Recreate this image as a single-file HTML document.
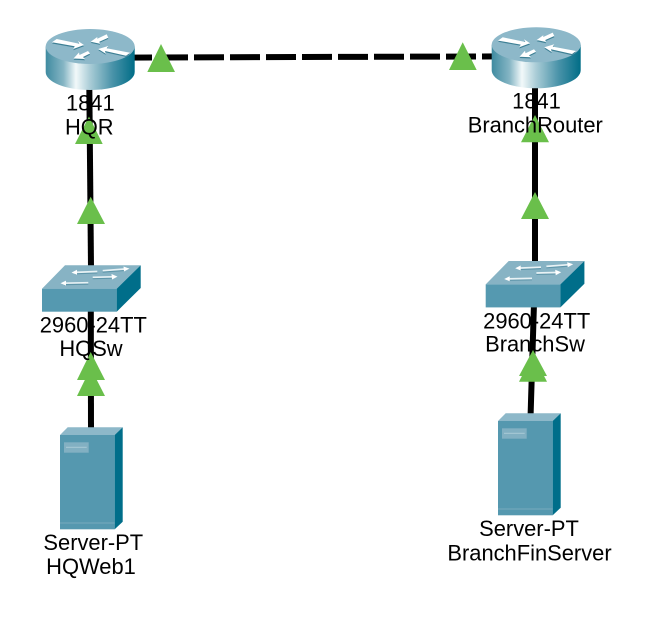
<!DOCTYPE html>
<html>
<head>
<meta charset="utf-8">
<style>
html,body{margin:0;padding:0;background:#fff;width:667px;height:640px;overflow:hidden}
svg{display:block}
text{font-family:"Liberation Sans",Arial,sans-serif;font-size:21.9px;fill:#000;text-anchor:middle}
</style>
</head>
<body>
<svg width="667" height="640" viewBox="0 0 667 640" xmlns="http://www.w3.org/2000/svg">
<defs>
<linearGradient id="rg" x1="0" x2="1" y1="0" y2="0">
<stop offset="0" stop-color="#3f8ba0"/>
<stop offset="0.2" stop-color="#85b5c4"/>
<stop offset="0.34" stop-color="#f2f9fa"/>
<stop offset="0.5" stop-color="#a9ccd6"/>
<stop offset="0.75" stop-color="#4a93a9"/>
<stop offset="1" stop-color="#006d87"/>
</linearGradient>
<g id="router">
<path d="M45.7,46.5 V72 A44.5,18 0 0 0 134.7,72 V46.5 Z" fill="url(#rg)"/>
<ellipse cx="90.2" cy="46.5" rx="44.5" ry="17.5" fill="#8db8c9"/>
<g fill="#3d7f94" transform="translate(0,1.2)">
<polygon points="52,42.3 56.7,39 79.3,43.7 78,41 84,45 73.3,49 74.7,46.3"/>
<polygon points="98.3,49 108.3,46 106.7,48.3 130,52.7 126,55.7 105,51 105.7,53.7"/>
<polygon points="90.7,41.7 97.3,37 97.3,38.7 106.7,34.3 108.3,37.7 99.3,41.7 100,43.7"/>
<polygon points="73.5,58.5 79,52.5 79.5,55 88,51 90,53.5 83,57 85,59"/>
</g>
<g fill="#fff">
<polygon points="52,42.3 56.7,39 79.3,43.7 78,41 84,45 73.3,49 74.7,46.3"/>
<polygon points="98.3,49 108.3,46 106.7,48.3 130,52.7 126,55.7 105,51 105.7,53.7"/>
<polygon points="90.7,41.7 97.3,37 97.3,38.7 106.7,34.3 108.3,37.7 99.3,41.7 100,43.7"/>
<polygon points="73.5,58.5 79,52.5 79.5,55 88,51 90,53.5 83,57 85,59"/>
</g>
</g>
<g id="switch">
<polygon points="42,288.7 65,265.3 140.7,265.3 116.7,288.7" fill="#87b3c4"/>
<rect x="42" y="288.7" width="74.7" height="23" fill="#5599b0"/>
<polygon points="116.7,288.7 140.7,265.3 140.7,288 116.7,311.7" fill="#006e8a"/>
<g stroke="#5f96aa" stroke-width="1.4" fill="none" transform="translate(0,1.3)">
<path d="M75,272.4 L97.3,271.5"/><path d="M102.7,270.7 L125,269"/>
<path d="M64,283.2 L88.3,282.7"/><path d="M92.7,277.3 L113,276.8"/>
</g>
<g stroke="#e8f2f5" stroke-width="1.7" fill="none">
<path d="M75,272.4 L97.3,271.5"/><path d="M102.7,270.7 L125,269"/>
<path d="M64,283.2 L88.3,282.7"/><path d="M92.7,277.3 L113,276.8"/>
</g>
<g fill="#fff">
<polygon points="71.5,272.6 77,269.8 77,274.8"/>
<polygon points="129.5,268.6 123.5,266.5 124,271.5"/>
<polygon points="60.5,283.3 66,280.6 66,285.6"/>
<polygon points="117.5,276.6 111.5,274 112,279.5"/>
</g>
</g>
<g id="server">
<polygon points="60,435 67.7,427.3 122.7,427.3 114.7,435" fill="#8db8c9"/>
<rect x="60" y="435" width="54.7" height="94.3" fill="#5598af"/>
<polygon points="114.7,435 122.7,427.3 122.7,521.7 114.7,529.3" fill="#006e8a"/>
<rect x="64" y="442.3" width="24.7" height="10.4" fill="#82b0c2"/>
<rect x="66" y="446.8" width="20.7" height="1" fill="#a9cad6"/>
<rect x="60" y="522.5" width="54.7" height="1" fill="#76aabd"/>
</g>
</defs>

<rect width="667" height="640" fill="#fff"/>

<!-- links -->
<g stroke="#000" stroke-width="6" fill="none">
<line x1="122" y1="57.6" x2="500" y2="56.4" stroke-dasharray="30 6"/>
<line x1="89.3" y1="85" x2="91" y2="268"/>
<line x1="90.8" y1="308" x2="91" y2="430"/>
<line x1="535" y1="85" x2="535" y2="264"/>
<line x1="534" y1="303" x2="530.5" y2="418"/>
</g>

<!-- devices -->
<use href="#router"/>
<use href="#router" transform="translate(446,-1.7)"/>
<use href="#switch"/>
<use href="#switch" transform="translate(443.7,-4.3)"/>
<use href="#server"/>
<use href="#server" transform="translate(438,-14)"/>

<!-- link lights -->
<g fill="#6abf4b">
<polygon points="161,44 147.3,72 175,72"/>
<polygon points="462.7,42.3 449,70 476.7,70"/>
<polygon points="89,116.5 75,144 102.7,144"/>
<polygon points="90.7,196.7 77,224 105,224"/>
<polygon points="90.7,352 77,380 105,380"/>
<polygon points="90.7,368 77,396 105,396"/>
<polygon points="535,115 521,142.3 549,142.3"/>
<polygon points="535,192 521,219 549,219"/>
<polygon points="533,350 519,376 547,376"/>
<polygon points="533,354 519,381.7 547,381.7"/>
</g>

<!-- labels -->
<text x="90.3" y="110.7">1841</text>
<text x="89.3" y="134.3">HQR</text>
<text x="93.3" y="332.7">2960-24TT</text>
<text x="91" y="356">HQSw</text>
<text x="93.3" y="550">Server-PT</text>
<text x="91" y="574">HQWeb1</text>
<text x="536.5" y="108.3">1841</text>
<text x="535.3" y="132.7">BranchRouter</text>
<text x="536.7" y="328.7">2960-24TT</text>
<text x="535" y="351.7">BranchSw</text>
<text x="529" y="536">Server-PT</text>
<text x="529.5" y="560.7">BranchFinServer</text>
</svg>
</body>
</html>
